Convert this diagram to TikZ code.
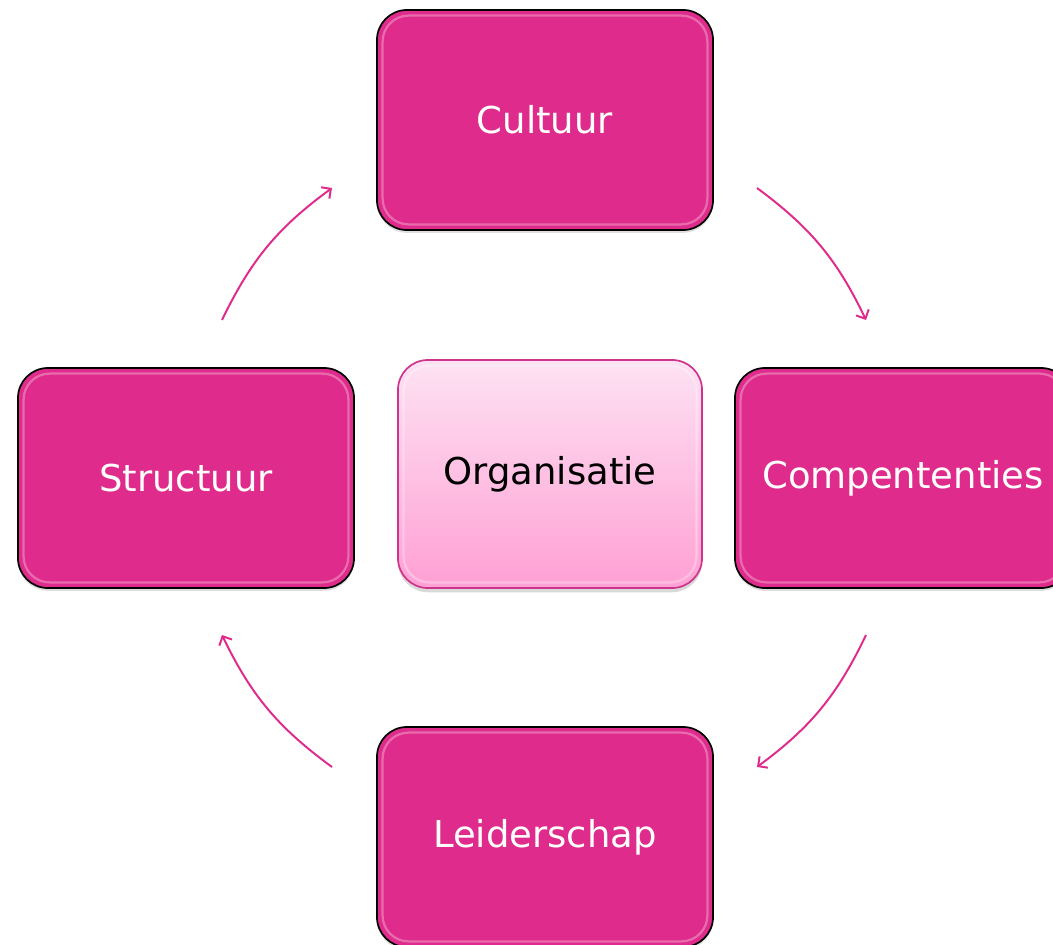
\documentclass[tikz,border=0pt]{standalone}
\usepackage{fontspec}
\setmainfont{DejaVu Sans}
\usetikzlibrary{arrows.meta,shadows}
\definecolor{roze}{RGB}{223,43,139}
\definecolor{rozerand}{RGB}{206,52,138}
\definecolor{lichtroze}{RGB}{253,226,243}
\definecolor{middelroze}{RGB}{255,160,212}
\begin{document}
\begin{tikzpicture}[x=0.025cm,y=-0.025cm,
  blok/.style={rectangle, rounded corners=0.75cm, draw=black, line width=1.2pt,
    fill=roze, text=white, minimum width=8.4cm, minimum height=5.5cm,
    font=\fontsize{26.3}{30}\selectfont, drop shadow={opacity=.25, shadow xshift=0pt, shadow yshift=-2pt}, glans},
  kern/.style={rectangle, rounded corners=0.75cm, draw=rozerand, line width=1.2pt,
    top color=lichtroze, bottom color=middelroze, text=black, minimum width=7.6cm, minimum height=5.7cm,
    font=\fontsize{26.3}{30}\selectfont, drop shadow={opacity=.3, shadow xshift=0pt, shadow yshift=-3pt}, glans},
  glans/.style={path picture={\draw[white, opacity=.3, line width=1.6pt, rounded corners=0.65cm]
    ([shift={(4pt,-4pt)}]path picture bounding box.north west) rectangle
    ([shift={(-4pt,4pt)}]path picture bounding box.south east);}},
  pijl/.style={draw=roze, line width=1.4pt, -{Straight Barb[length=5pt,width=10pt]}}]
\useasboundingbox (0,0) rectangle (1053,945);
\clip (0,0) rectangle (1053,945);
% de vier blokken en het midden
\node[blok] (cultuur) at (545,120) {Cultuur};
\node[blok] (comp) at (903,478) {Compententies};
\node[blok] (leider) at (545,837) {Leiderschap};
\node[blok] (structuur) at (186,478) {Structuur};
\node[kern] (org) at (550,474) {Organisatie};
% pijlen rondom
\coordinate (p1) at (757,188);
\coordinate (p2) at (866,320);
\coordinate (p3) at (866,635);
\coordinate (p4) at (757,767);
\coordinate (p5) at (332,767);
\coordinate (p6) at (222,635);
\coordinate (p7) at (222,320);
\coordinate (p8) at (332,188);
\draw[pijl] (p1) to[bend left=14] (p2);
\draw[pijl] (p3) to[bend left=14] (p4);
\draw[pijl] (p5) to[bend left=14] (p6);
\draw[pijl] (p7) to[bend left=14] (p8);
\end{tikzpicture}
\end{document}
